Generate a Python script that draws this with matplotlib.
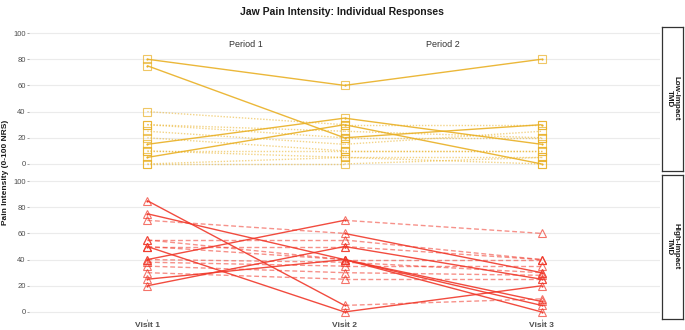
import matplotlib
matplotlib.use("Agg")
import matplotlib.pyplot as plt

plt.rcParams['font.family'] = ['Liberation Sans', 'DejaVu Sans']

visits = ["Visit 1", "Visit 2", "Visit 3"]
periods = ["Period 1", "Period 2"]
groups = ["Low-impact\nTMD", "High-impact\nTMD"]

# Low-impact TMD: scores per participant at visits 1-3
low_v1 = [80, 75, 15, 5, 40, 30, 25, 20, 10, 0, 30, 10, 0]
low_v2 = [60, 20, 35, 30, 30, 25, 15, 10, 5, 0, 20, 10, 5]
low_v3 = [80, 30, 15, 0, 30, 20, 25, 10, 5, 5, 20, 10, 0]
# 1 = solid segment (marked change), 0 = dotted
low_solid_p1 = [1, 1, 1, 1, 0, 0, 0, 0, 0, 0, 0, 0, 0]
low_solid_p2 = [1, 1, 1, 1, 0, 0, 0, 0, 0, 0, 0, 0, 0]

# High-impact TMD
high_v1 = [85, 50, 75, 40, 70, 55, 50, 25, 20, 50, 40, 38, 35, 30, 55]
high_v2 = [5, 0, 40, 70, 60, 55, 50, 40, 50, 40, 38, 35, 30, 25, 40]
high_v3 = [10, 20, 5, 60, 30, 40, 25, 0, 40, 8, 30, 35, 28, 25, 40]
high_solid_p1 = [1, 1, 1, 1, 0, 0, 0, 1, 1, 0, 0, 0, 0, 0, 0]
high_solid_p2 = [0, 1, 1, 0, 1, 0, 1, 1, 0, 1, 0, 0, 0, 0, 0]

low_color = "#E9B024"
high_color = "#F0382A"

W, H = 685, 330
fig = plt.figure(figsize=(W / 100, H / 100), dpi=100)


def box(x0, y0, x1, y1):
    return [x0 / W, 1 - y1 / H, (x1 - x0) / W, (y1 - y0) / H]


def draw_panel(ax, v1, v2, v3, s1, s2, color, marker, soft_ls):
    xs = [1, 2, 3]
    for i in range(len(v1)):
        ys = [v1[i], v2[i], v3[i]]
        flags = [s1[i], s2[i]]
        for k in range(2):
            if flags[k]:
                ax.plot(xs[k:k + 2], ys[k:k + 2], color=color, lw=1.0, alpha=0.9,
                        solid_capstyle="butt", zorder=3)
            else:
                ax.plot(xs[k:k + 2], ys[k:k + 2], color=color, lw=1.0, alpha=0.55,
                        ls=soft_ls, zorder=2)
        for k in range(3):
            ax.plot(xs[k], ys[k], marker=marker, ms=5.5, mfc="none", mec=color,
                    mew=0.8, alpha=0.7, zorder=4)
            touches = (k > 0 and flags[k - 1]) or (k < 2 and flags[k])
            if touches:
                ax.plot(xs[k], ys[k], marker="o", ms=1.6, color=color, mew=0, zorder=5)

    ax.set_xlim(0.4, 3.6)
    ax.set_ylim(-5, 105)
    ax.set_yticks([0, 20, 40, 60, 80, 100])
    ax.set_xticks([1, 2, 3])
    ax.grid(axis="y", color="#EBEBEB", lw=0.8)
    ax.set_axisbelow(True)
    for sp in ax.spines.values():
        sp.set_visible(False)
    ax.tick_params(axis="both", length=1.5, width=0.5, color="#7F7F7F",
                   labelsize=5.5, labelcolor="#4D4D4D", pad=1)


ax_low = fig.add_axes(box(29, 26.5, 660, 170.5))
ax_high = fig.add_axes(box(29, 174.5, 660, 318.5))

draw_panel(ax_low, low_v1, low_v2, low_v3, low_solid_p1, low_solid_p2,
           low_color, "s", (0, (1, 1.2)))
draw_panel(ax_high, high_v1, high_v2, high_v3, high_solid_p1, high_solid_p2,
           high_color, "^", (0, (3.5, 2)))

ax_low.tick_params(axis="x", bottom=False, labelbottom=False)
ax_high.set_xticklabels(visits, fontsize=6, fontweight="bold", color="#4D4D4D")

for j, p in enumerate(periods):
    ax_low.text(1.5 + j, 91, p, ha="center", va="center", fontsize=6.5, color="#333333")

# facet strips
for ax_box, label in [(box(662, 26.5, 683, 170.5), groups[0]),
                      (box(662, 174.5, 683, 318.5), groups[1])]:
    sax = fig.add_axes(ax_box)
    sax.set_xticks([])
    sax.set_yticks([])
    for sp in sax.spines.values():
        sp.set_color("#333333")
        sp.set_linewidth(0.9)
    sax.text(0.5, 0.5, label, rotation=-90, ha="center", va="center",
             fontsize=5.8, fontweight="bold", color="#1A1A1A", linespacing=1.0,
             transform=sax.transAxes)

fig.text(6 / W, 1 - 172 / H, "Pain Intensity (0-100 NRS)", rotation=90,
         ha="center", va="center", fontsize=6, fontweight="bold", color="#1A1A1A")
fig.text(342 / W, 1 - 12 / H, "Jaw Pain Intensity: Individual Responses",
         ha="center", va="center", fontsize=7.5, fontweight="bold", color="#1A1A1A")

fig.savefig("out.png", dpi=100)
